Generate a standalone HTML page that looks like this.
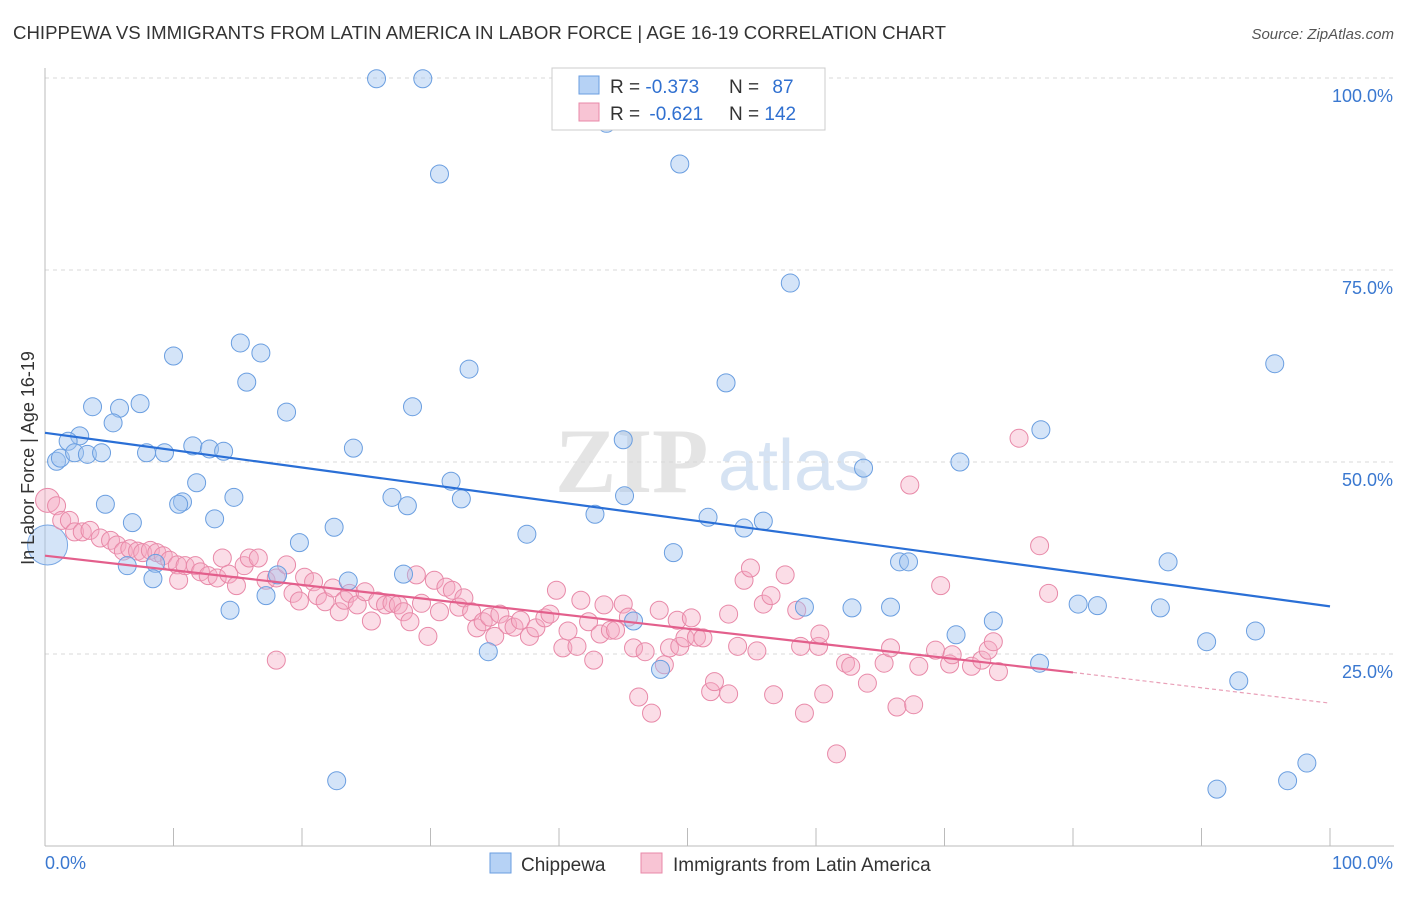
<!DOCTYPE html>
<html><head><meta charset="utf-8"><style>
body{margin:0;background:#fff;font-family:"Liberation Sans",sans-serif;}
</style></head><body>
<svg id="chart" width="1406" height="892" xmlns="http://www.w3.org/2000/svg" font-family="Liberation Sans, sans-serif">
<text x="13" y="39" font-size="18" fill="#333" textLength="933" lengthAdjust="spacingAndGlyphs">CHIPPEWA VS IMMIGRANTS FROM LATIN AMERICA IN LABOR FORCE | AGE 16-19 CORRELATION CHART</text>
<text x="1394" y="39" font-size="15" fill="#555" text-anchor="end" font-style="italic">Source: ZipAtlas.com</text>
<g>
<text x="555" y="492" font-size="92" font-family="Liberation Serif, serif" fill="#e4e4e4" font-weight="bold">ZIP</text>
<text x="718" y="490" font-size="72" fill="#d6e3f3">atlas</text>
</g>
<g id="grid"></g>
<g id="axes"></g>
<g id="pts"></g>
<g id="lines"></g>
<g>
<rect x="552" y="68" width="273" height="62" fill="#fff" stroke="#ccc"/>
<rect x="579" y="76" width="20" height="18" fill="#b6d2f5" stroke="#6a9ee0"/>
<rect x="579" y="103" width="20" height="18" fill="#f8c4d4" stroke="#e889a8"/>
<text x="610" y="93" font-size="19" fill="#333">R = <tspan fill="#3070d0">-0.373</tspan></text>
<text x="729" y="93" font-size="19" fill="#333">N = <tspan fill="#3070d0" dx="8">87</tspan></text>
<text x="610" y="120" font-size="19" fill="#333">R = <tspan fill="#3070d0" dx="4">-0.621</tspan></text>
<text x="729" y="120" font-size="19" fill="#333">N = <tspan fill="#3070d0">142</tspan></text>
</g>
<g>
<rect x="490" y="853" width="21" height="20" fill="#b6d2f5" stroke="#6a9ee0"/>
<text x="521" y="871" font-size="19" fill="#333">Chippewa</text>
<rect x="641" y="853" width="21" height="20" fill="#f8c4d4" stroke="#e889a8"/>
<text x="673" y="871" font-size="19" fill="#333">Immigrants from Latin America</text>
</g>
<text transform="translate(34,458) rotate(-90)" font-size="18" fill="#333" text-anchor="middle">In Labor Force | Age 16-19</text>
</svg>
<script>
const yTicks=[25,50,75,100];
const bluePx=[[377,79],[423,79],[606,123],[440,174],[680,164],[790,283],[1275,364],[173,356],[240,343],[261,353],[247,382],[286,412],[469,369],[412,407],[726,383],[93,407],[119,408],[140,404],[113,423],[80,436],[68,441],[57,461],[60,458],[75,453],[88,454],[102,453],[147,453],[165,453],[193,446],[210,449],[223,451],[354,448],[623,440],[1041,430],[960,462],[864,468],[451,481],[392,497],[407,506],[461,499],[197,483],[234,497],[182,502],[179,504],[105,504],[215,519],[133,523],[624,496],[595,514],[708,517],[744,528],[763,521],[527,534],[334,527],[299,543],[674,553],[127,566],[155,563],[153,579],[278,575],[348,581],[404,574],[266,596],[230,610],[804,607],[852,608],[890,607],[899,562],[908,562],[1078,604],[1097,606],[1160,608],[1168,562],[993,621],[956,635],[1256,631],[1206,642],[633,621],[488,652],[661,669],[1039,663],[1239,681],[337,781],[1217,789],[1287,781],[1307,763]];
const pinkPx=[[56,506],[62,520],[70,520],[75,532],[82,532],[90,530],[100,538],[110,540],[117,545],[124,551],[130,549],[137,551],[143,553],[150,550],[157,553],[163,556],[170,560],[177,565],[178,580],[185,566],[195,566],[200,572],[208,576],[217,578],[222,558],[229,574],[236,586],[244,566],[249,558],[258,558],[266,580],[276,578],[286,565],[293,593],[299,601],[305,577],[313,582],[318,596],[325,602],[333,588],[339,612],[345,600],[350,593],[357,605],[365,592],[372,621],[378,601],[385,605],[392,603],[398,605],[403,612],[410,622],[416,575],[421,603],[428,636],[434,580],[440,612],[446,587],[452,590],[459,607],[464,598],[471,612],[477,628],[483,622],[489,617],[495,636],[500,614],[507,625],[514,627],[520,620],[529,636],[536,628],[545,618],[550,614],[557,590],[563,648],[568,631],[577,646],[581,600],[588,622],[594,660],[600,634],[604,605],[610,630],[616,630],[623,604],[628,617],[634,648],[639,697],[645,652],[651,713],[659,610],[665,665],[670,648],[677,620],[680,646],[685,638],[691,618],[696,637],[703,638],[711,692],[714,682],[729,694],[729,614],[738,646],[744,580],[751,568],[757,651],[763,604],[771,596],[774,695],[785,575],[797,610],[801,646],[804,713],[818,646],[820,634],[824,694],[837,754],[845,663],[851,666],[867,683],[884,663],[891,648],[897,707],[910,485],[914,705],[919,666],[935,650],[941,586],[949,664],[952,655],[972,666],[982,660],[988,650],[993,642],[999,672],[1019,438],[1039,546],[1048,593],[276,660]];
const blueX=bluePx.map(p=>+((p[0]-45)/12.85).toFixed(1));
const blueY=bluePx.map(p=>+((846-p[1])/7.68).toFixed(1));
const pinkX=pinkPx.map(p=>+((p[0]-45)/12.85).toFixed(1));
const pinkY=pinkPx.map(p=>+((846-p[1])/7.68).toFixed(1));
const blueTrend=[[0,53.8],[100,31.2]];
const pinkTrend=[[0,37.8],[80,22.6],[100,18.6]];
const X=v=>45+v*12.85, Y=v=>846-v*7.68;
const NS="http://www.w3.org/2000/svg";
function mk(t,a,par){const e=document.createElementNS(NS,t);for(const k in a)e.setAttribute(k,a[k]);document.getElementById(par).appendChild(e);return e;}
yTicks.forEach(t=>{
 const l=mk('line',{x1:45,x2:1394,y1:Y(t),y2:Y(t),stroke:'#d8d8d8','stroke-dasharray':'4,4'},'grid');
 
 
 const tx=mk('text',{x:1393,y:Y(t)+24,'font-size':18,fill:'#3a78d0','text-anchor':'end'},'grid');
 tx.textContent=t.toFixed(1)+'%';
 
 
});
mk('line',{x1:45,x2:45,y1:68,y2:846,stroke:'#bbb'},'axes');
mk('line',{x1:45,x2:1394,y1:846,y2:846,stroke:'#bbb'},'axes');
for(let i=0;i<=10;i++){const t=mk('line',{x1:X(i*10),x2:X(i*10),y1:828,y2:846,stroke:'#bbb'},'axes');}
const x0=mk('text',{x:45,y:869,'font-size':18,fill:'#3a78d0'},'axes');x0.textContent='0.0%';

const x1=mk('text',{x:1393,y:869,'font-size':18,fill:'#3a78d0','text-anchor':'end'},'axes');x1.textContent='100.0%';

const pb=mk('circle',{cx:X(0.2),cy:Y(39.2),r:20,fill:'rgba(160,195,240,0.45)',stroke:'#7aa8e4'},'pts');

const pp=mk('circle',{cx:X(0.2),cy:Y(45),r:12,fill:'rgba(245,170,195,0.45)',stroke:'#e889a8'},'pts');

pinkX.forEach((v,i)=>{const c=mk('circle',{cx:X(v),cy:Y(pinkY[i]),r:9,fill:'rgba(245,170,195,0.4)',stroke:'#e889a8','stroke-width':1},'pts');
 
 });
blueX.forEach((v,i)=>{const c=mk('circle',{cx:X(v),cy:Y(blueY[i]),r:9,fill:'rgba(160,195,240,0.45)',stroke:'#6a9ee0','stroke-width':1},'pts');
 
 });
const bl=mk('line',{x1:X(blueTrend[0][0]),y1:Y(blueTrend[0][1]),x2:X(blueTrend[1][0]),y2:Y(blueTrend[1][1]),stroke:'#2a6fd6','stroke-width':2.2},'lines');

const pl=mk('line',{x1:X(pinkTrend[0][0]),y1:Y(pinkTrend[0][1]),x2:X(pinkTrend[1][0]),y2:Y(pinkTrend[1][1]),stroke:'#e35f8c','stroke-width':2.2},'lines');

const pd=mk('line',{x1:X(pinkTrend[1][0]),y1:Y(pinkTrend[1][1]),x2:X(pinkTrend[2][0]),y2:Y(pinkTrend[2][1]),stroke:'#e9a0b8','stroke-width':1.2,'stroke-dasharray':'4,3'},'lines');

</script>
</body></html>
